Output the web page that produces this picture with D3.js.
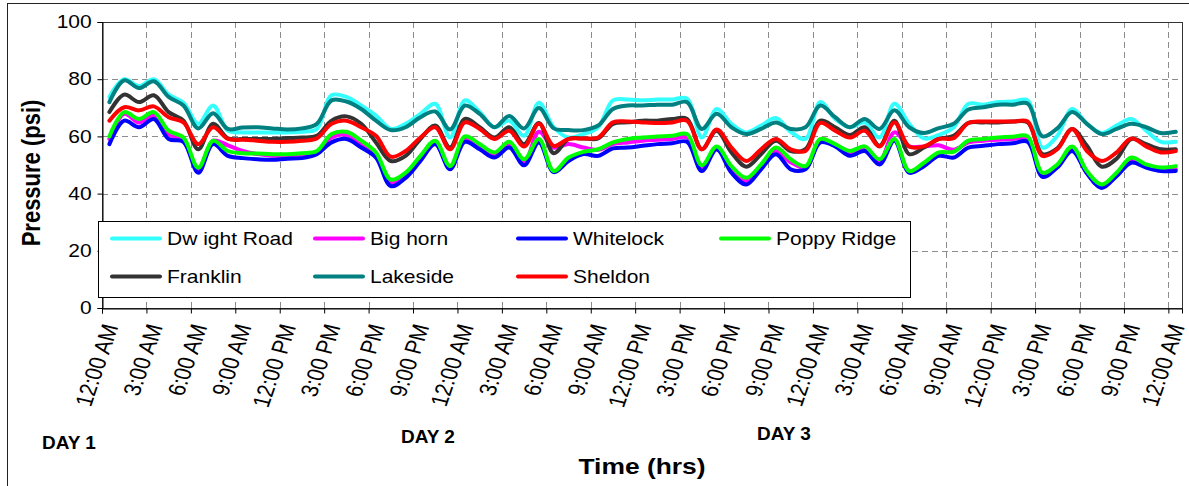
<!DOCTYPE html>
<html>
<head>
<meta charset="utf-8">
<script src="https://cdn.jsdelivr.net/npm/d3@7"></script>
<style>
  body { margin: 0; background: #fff; }
  text { font-family: Arial, "Liberation Sans", sans-serif; }
</style>
</head>
<body>
<script>
/*
* Pressure at seven stations over three days, redrawn with d3.
*/

// hour of each reading (half past every hour)
var hours = d3.range(0.5, 73, 1);

// pressure readings (psi), one per hour
var dwightRoad = [73.8, 80, 77.6, 80, 74.6, 71.8, 64.4, 70.8, 62, 61.4, 61.4, 61.4, 61.4, 61.6, 62.6, 74.4, 73.8, 70.8,
  67.3, 62.6, 64.4, 67.9, 71.4, 59.6, 72.6, 68.5, 63.2, 65.5, 60.2, 71.8, 63.2, 59.6, 60.8, 63.2, 72.6, 72.9,
  72.6, 72.9, 72.9, 73.2, 59.6, 69.6, 64.4, 61.4, 63.8, 66.4, 61.6, 59.1, 72, 66.1, 63.2, 64.9, 59.6, 71.4,
  64.4, 59.3, 60.5, 63.2, 71.4, 71.1, 72, 72.2, 72.6, 56.1, 60.2, 69.6, 64.4, 61.2, 63.8, 66.1, 62, 58.1, 58.1];
var bigHorn = [59.1, 67.9, 64.9, 67.3, 60.8, 58.5, 48.5, 58.5, 56.9, 54.9, 53.8, 53.2, 53.2, 53.4, 54.4, 59.6, 60.5, 57.3,
  53.8, 43.8, 46.7, 52, 57.3, 49.1, 59.1, 56.5, 53.2, 56.7, 50.8, 61.6, 56.1, 57.3, 56.1, 55.3, 57.3, 57.9,
  58.5, 58.8, 59.1, 59.6, 49.1, 55.5, 48.7, 44.4, 49.6, 54.9, 51, 49.1, 58.5, 56.7, 54.4, 55.8, 51.4, 61.4,
  56.5, 56.5, 56.9, 55.3, 57.9, 58.5, 58.8, 59.1, 59.1, 46.7, 49.6, 55.8, 47.1, 42.4, 46.7, 52, 49.6, 48.5, 48.5];
var whitelock = [57.3, 65.5, 63.2, 66.1, 59.1, 58.1, 47.3, 57.3, 53.2, 52.4, 52, 51.8, 52.2, 52.4, 53.8, 57.9, 59.1, 56.1,
  52.6, 42.6, 45.5, 51.4, 57.3, 48.5, 58.1, 55.5, 52.6, 56.1, 49.9, 57.9, 47.5, 51.4, 53.8, 53.2, 55.8, 56.1,
  56.7, 57.3, 57.6, 58.1, 47.9, 55.5, 47.3, 43.2, 48.5, 53.8, 48.5, 48.5, 57.9, 56.5, 53.2, 54.9, 50.2, 58.5,
  47.3, 49.6, 53.2, 52.6, 56.1, 56.7, 57.3, 57.6, 58.1, 45.9, 49.1, 54.9, 47.1, 42, 46.1, 50.8, 49.1, 47.9, 47.9];
var poppyRidge = [60, 68.5, 66.1, 68.5, 62, 59.6, 49.1, 58.5, 54.9, 54.1, 54, 53.8, 53.8, 54.1, 54.9, 60.8, 61.6, 58.5,
  54.4, 44.9, 47.3, 53.2, 58.5, 49.6, 60, 57.3, 54.4, 58.1, 52, 59.1, 47.9, 52.6, 54.6, 55.5, 57.9, 59.1,
  59.6, 60, 60.2, 60.8, 49.9, 56.5, 49.6, 45.5, 50.2, 56.1, 52, 49.6, 59.1, 57.3, 54.9, 56.5, 52, 59.1,
  47.9, 50.8, 54.4, 54.6, 58.5, 59.1, 59.6, 59.9, 60, 47.3, 50.2, 56.5, 47.9, 43.2, 47.3, 52.6, 50.2, 49.1, 49.6];
var franklin = [68.5, 74.6, 72, 74.4, 68.5, 65.5, 55.5, 64.4, 59.3, 59.1, 59.1, 59.1, 59.4, 59.6, 60.2, 65.5, 67, 64.4,
  57.9, 51.4, 53.2, 59.1, 63.8, 56.1, 66.1, 63.2, 59.6, 63.2, 57.3, 64.7, 54.1, 59.1, 59.3, 59.3, 64.4, 64.9,
  65.5, 65.5, 66.1, 66.1, 55.5, 62, 54.4, 49.4, 53.8, 58.5, 54.9, 55.5, 65.5, 63.2, 60.5, 63.2, 56.7, 65.5,
  53.8, 56.1, 59.1, 60.2, 64.7, 64.9, 64.9, 65.2, 64.9, 53.8, 55.8, 62.6, 56.7, 49.4, 52.2, 59.1, 57.3, 55.5, 55.5];
var lakeside = [72, 79.6, 76.9, 79.3, 73.8, 70.8, 62.8, 68.1, 62.6, 63.1, 63.2, 62.8, 62.4, 62.8, 64.4, 72.6, 72.2, 69.6,
  65.5, 62.2, 63.2, 66.7, 68.7, 62.4, 70.8, 67.9, 63.2, 67.1, 62.8, 69.9, 62.8, 62.2, 62.2, 63.8, 69.6, 70.8,
  70.8, 71.1, 71.1, 72, 62.6, 67.9, 63.2, 60.8, 62.6, 64.9, 62.6, 63.2, 70.8, 66.7, 63.2, 66.1, 62.6, 69.1,
  63.2, 61.2, 62.9, 64.4, 69.4, 70.2, 71.1, 71.1, 71.5, 60, 62.8, 68.5, 64.4, 60.8, 62.6, 64.4, 63.2, 61.2, 61.6];
var sheldon = [65.5, 70.2, 69.1, 70.5, 66.7, 64.9, 57.3, 63.2, 59.1, 58.8, 58.5, 58.1, 58.1, 58.5, 59.3, 64.4, 65.5, 63.2,
  60.2, 52.9, 54.9, 59.6, 63.2, 55.5, 64.9, 62.6, 59.1, 62, 56.5, 64.4, 56.7, 59.1, 59.3, 59.6, 64.9, 65.2,
  64.9, 64.7, 64.9, 65.5, 55.5, 62.4, 56.1, 51.4, 55.5, 59.1, 55.5, 54.9, 64.7, 62, 59.6, 62, 56.5, 64.9,
  56.5, 56.5, 59.1, 59.4, 64.7, 65.2, 65.2, 65.2, 65.2, 53.2, 55.5, 62.6, 54.9, 51.4, 54.4, 59.3, 56.5, 54.4, 54.9];

// series names and colours, in drawing order
var seriesNames = ["Dw ight Road", "Big horn", "Whitelock", "Poppy Ridge", "Franklin", "Lakeside", "Sheldon"];
var seriesColors = ["#33ffff", "#ff00ff", "#0000ff", "#00ff00", "#333333", "#008080", "#ff0000"];
var seriesValues = [dwightRoad, bigHorn, whitelock, poppyRidge, franklin, lakeside, sheldon];

// x ticks every three hours
var tickHours = d3.range(0, 73, 3);
var tickLabels = ["12:00 AM", "3:00 AM", "6:00 AM", "9:00 AM", "12:00 PM", "3:00 PM", "6:00 PM", "9:00 PM",
  "12:00 AM", "3:00 AM", "6:00 AM", "9:00 AM", "12:00 PM", "3:00 PM", "6:00 PM", "9:00 PM",
  "12:00 AM", "3:00 AM", "6:00 AM", "9:00 AM", "12:00 PM", "3:00 PM", "6:00 PM", "9:00 PM", "12:00 AM"];
var yTicks = [0, 20, 40, 60, 80, 100];

var dayLabels = ["DAY 1", "DAY 2", "DAY 3"];

// size of the picture and the plot area
var width = 1189, height = 486;
var plot = {left: 102, right: 1182, top: 22, bottom: 308};
var stretch = "scale(1.2,1)";

var svg = d3.select("body")
  .append("svg")
  .attr("width", width)
  .attr("height", height);

// outer frame
svg.append("rect")
  .attr("x", 7.5).attr("y", 3.5)
  .attr("width", 1200).attr("height", 500)
  .attr("fill", "#fff")
  .attr("stroke", "#222");

var xScale = d3.scaleLinear()
  .domain([0, 72.92])
  .range([plot.left, plot.right]);

var yScale = d3.scaleLinear()
  .domain([0, 100])
  .range([plot.bottom, plot.top]);

// dashed grid
var grid = svg.append("g");
grid.selectAll("line.v")
  .data(tickHours.slice(1))
  .enter().append("line")
  .attr("x1", function(d) { return Math.round(xScale(d)) + 0.5; })
  .attr("x2", function(d) { return Math.round(xScale(d)) + 0.5; })
  .attr("y1", plot.top).attr("y2", plot.bottom)
  .attr("stroke", "#8c8c8c")
  .attr("stroke-dasharray", "6,4");
grid.selectAll("line.h")
  .data(yTicks.slice(1, 5))
  .enter().append("line")
  .attr("x1", plot.left).attr("x2", plot.right)
  .attr("y1", function(d) { return Math.round(yScale(d)) + 0.5; })
  .attr("y2", function(d) { return Math.round(yScale(d)) + 0.5; })
  .attr("stroke", "#8c8c8c")
  .attr("stroke-dasharray", "6,4");

// plot area border
svg.append("rect")
  .attr("x", plot.left + 0.5).attr("y", plot.top + 0.5)
  .attr("width", plot.right - plot.left).attr("height", plot.bottom - plot.top)
  .attr("fill", "none")
  .attr("stroke", "#333");

// the lines
var line = d3.line()
  .x(function(d, i) { return xScale(hours[i]); })
  .y(function(d) { return yScale(d); })
  .curve(d3.curveCatmullRom.alpha(0.5));

svg.append("g").selectAll("path")
  .data(seriesValues)
  .enter().append("path")
  .attr("d", line)
  .attr("fill", "none")
  .attr("stroke", function(d, i) { return seriesColors[i]; })
  .attr("stroke-width", 4)
  .attr("stroke-linejoin", "round")
  .attr("stroke-linecap", "round");

// y axis
var yAxis = svg.append("g")
  .attr("transform", "translate(" + (plot.left + 0.5) + ",0)")
  .call(d3.axisLeft(yScale).tickValues(yTicks).tickSize(5).tickPadding(4));
yAxis.select(".domain").attr("stroke", "#000");
yAxis.selectAll("text")
  .attr("font-size", 17.5)
  .attr("fill", "#000")
  .attr("transform", stretch);

// x axis
var xAxis = svg.append("g")
  .attr("transform", "translate(0," + (plot.bottom + 0.5) + ")")
  .call(d3.axisBottom(xScale).tickValues(tickHours).tickSize(5)
    .tickFormat(function(d, i) { return tickLabels[i]; }));
xAxis.select(".domain").attr("stroke", "#000");
xAxis.selectAll("text")
  .attr("x", 0).attr("y", 0).attr("dy", "0.35em")
  .attr("font-size", 20)
  .attr("fill", "#000")
  .attr("text-anchor", "end")
  .attr("transform", "translate(8,16) " + stretch + " rotate(-74)");

// legend
var legend = svg.append("g");
legend.append("rect")
  .attr("x", 98.5).attr("y", 221.5)
  .attr("width", 812).attr("height", 76)
  .attr("fill", "#fff")
  .attr("stroke", "#000");

legend.selectAll("g")
  .data(seriesNames)
  .enter().append("g")
  .each(function(d, i) {
    var g = d3.select(this);
    var lx = 112 + (i % 4) * 203;
    var ly = i < 4 ? 238.5 : 276.5;
    g.append("line")
      .attr("x1", lx).attr("x2", lx + 48)
      .attr("y1", ly).attr("y2", ly)
      .attr("stroke", seriesColors[i])
      .attr("stroke-width", 4)
      .attr("stroke-linecap", "round");
    g.append("text")
      .attr("transform", "translate(" + (lx + 55) + "," + (ly + 6) + ") " + stretch)
      .attr("font-size", 17.5)
      .text(d);
  });

// day labels under the time axis
var dayX = [42, 401, 757];
var dayY = [449, 443, 440];
svg.selectAll("text.day")
  .data(dayLabels)
  .enter().append("text")
  .attr("class", "day")
  .attr("x", function(d, i) { return dayX[i]; })
  .attr("y", function(d, i) { return dayY[i]; })
  .attr("font-size", 19)
  .attr("font-weight", "bold")
  .text(function(d) { return d; });

// axis titles
svg.append("text")
  .attr("transform", "translate(642,474) " + stretch)
  .attr("text-anchor", "middle")
  .attr("font-size", 22)
  .attr("font-weight", "bold")
  .text("Time (hrs)");

svg.append("text")
  .attr("transform", "translate(40,173) " + stretch + " rotate(-90)")
  .attr("text-anchor", "middle")
  .attr("font-size", 22)
  .attr("font-weight", "bold")
  .text("Pressure (psi)");
</script>
</body>
</html>
